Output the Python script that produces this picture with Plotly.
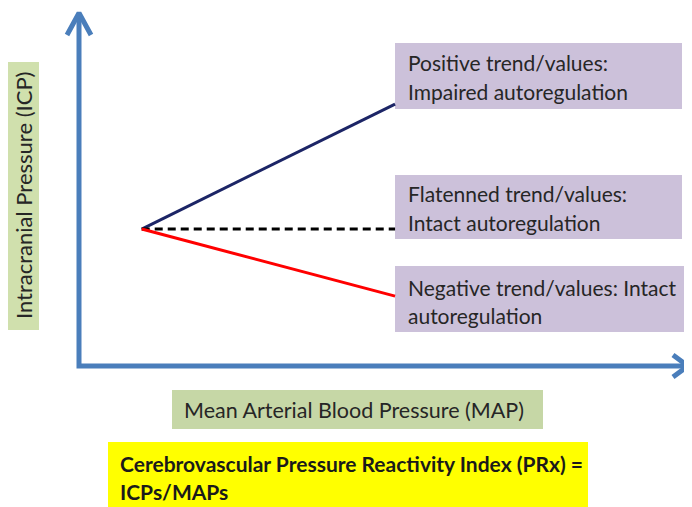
import plotly.graph_objects as go

# ---- data ----
trend_names = ["Positive", "Flattened", "Negative"]
map_start = 1.03
map_end = 5.19
icp_start = 3.88
icp_end = [7.42, 3.88, 1.98]
trend_colors = ["#1c2566", "#000000", "#ff0000"]
trend_dash = ["solid", "8px,5px", "solid"]
box_lines = [
    ["Positive trend/values:", "Impaired autoregulation"],
    ["Flatenned trend/values:", "Intact autoregulation"],
    ["Negative trend/values: Intact", "autoregulation"],
]
axis_max_x = 10.0
axis_max_y = 10.0
x_label = "Mean Arterial Blood Pressure (MAP)"
y_label = "Intracranial Pressure (ICP)"
formula_lines = ["Cerebrovascular Pressure Reactivity Index (PRx) =", "ICPs/MAPs"]

# ---- layout geometry (reference pixel coords; page body adds an 8px offset) ----
OFF = 8
W, H = 692 - OFF, 507 - OFF
ox, oy = 79 - OFF, 366 - OFF   # pixel position of axis origin inside the figure
sx, sy = 60.9, 35.3            # pixels per data unit
xr = [(0 - ox) / sx, (W - ox) / sx]
yr = [(oy - H) / sy, oy / sy]

def PX(p):
    return (p - OFF) / W

def PY(p):
    return 1 - (p - OFF) / H

FONT = "Lato"
AXIS_BLUE = "#4a7ebb"
TXT = "#262626"

fig = go.Figure()

# axes
fig.add_trace(go.Scatter(x=[0, 0, axis_max_x], y=[axis_max_y, 0, 0], mode="lines",
                         line=dict(color=AXIS_BLUE, width=5), hoverinfo="skip",
                         showlegend=False))
ay_back, ay_side = 22 / sy, 12 / sx
fig.add_trace(go.Scatter(x=[-ay_side, 0, ay_side],
                         y=[axis_max_y - ay_back, axis_max_y, axis_max_y - ay_back],
                         mode="lines", line=dict(color=AXIS_BLUE, width=5),
                         hoverinfo="skip", showlegend=False))
ax_back, ax_side = 15 / sx, 11 / sy
fig.add_trace(go.Scatter(x=[axis_max_x - ax_back, axis_max_x, axis_max_x - ax_back],
                         y=[ax_side, 0, -ax_side],
                         mode="lines", line=dict(color=AXIS_BLUE, width=5),
                         hoverinfo="skip", showlegend=False))

# trend lines
for name, ye, c, d in zip(trend_names, icp_end, trend_colors, trend_dash):
    fig.add_trace(go.Scatter(x=[map_start, map_end], y=[icp_start, ye], mode="lines",
                             name=name, line=dict(color=c, width=3, dash=d),
                             showlegend=False))

shapes = []
annotations = []

def text_at(x, y, t, size, bold=False, color=TXT, anchor="left", angle=0):
    annotations.append(dict(xref="paper", yref="paper", x=PX(x), y=PY(y),
                            xanchor=anchor, yanchor="middle", textangle=angle,
                            text=f"<b>{t}</b>" if bold else t, showarrow=False,
                            font=dict(family=FONT, size=size, color=color)))

def rect(x0, y0, x1, y1, color):
    shapes.append(dict(type="rect", xref="paper", yref="paper",
                       x0=PX(x0), x1=PX(x1), y0=PY(y1), y1=PY(y0),
                       fillcolor=color, line=dict(width=0), layer="below"))

# purple boxes
boxes = [(395, 43, 682, 109), (395, 175, 682, 239), (395, 266, 690, 332)]
line_y = [(62, 92), (193, 222), (287, 315)]
for (x0, y0, x1, y1), lines, ys in zip(boxes, box_lines, line_y):
    rect(x0, y0, x1, y1, "#ccc1da")
    for t, yy in zip(lines, ys):
        text_at(406, yy, t, 21)

# y label box
rect(8, 62, 39, 330, "#d0e0ad")
text_at(24, 196, y_label, 22, anchor="center", angle=-90)

# x label box
rect(172, 390, 543, 429, "#c6d7a6")
text_at(182, 410, x_label, 21.5)

# yellow formula box
rect(108, 442, 588, 507, "#ffff00")
for t, yy in zip(formula_lines, (463, 491)):
    text_at(118, yy, t, 21, bold=True, color="#1a1a1a")

fig.update_layout(
    width=W, height=H,
    margin=dict(l=0, r=0, t=0, b=0),
    paper_bgcolor="white", plot_bgcolor="white",
    xaxis=dict(range=xr, visible=False, fixedrange=True),
    yaxis=dict(range=yr, visible=False, fixedrange=True),
    shapes=shapes, annotations=annotations,
    showlegend=False,
)

fig.write_html("out.html")
